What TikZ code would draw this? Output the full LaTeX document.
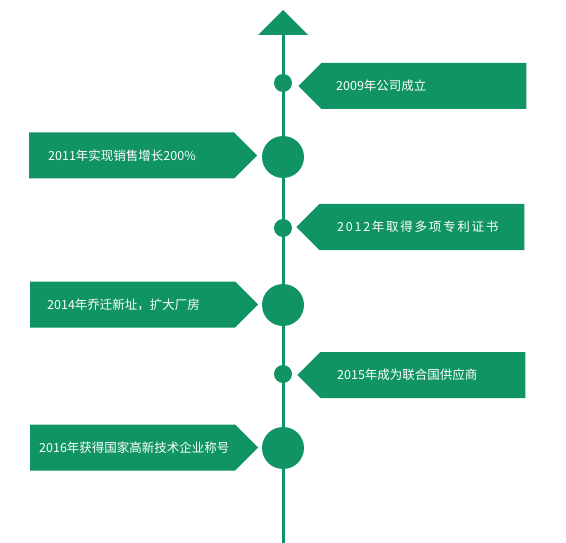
\documentclass[tikz,border=0pt]{standalone}
\usepackage{fontspec}
\setmainfont{Noto Sans CJK SC}
\usepackage{xcolor}
\usetikzlibrary{shapes.symbols,positioning}
\definecolor{tlgreen}{RGB}{16,148,100}

\begin{document}
\begin{tikzpicture}[x=1pt,y=-1pt,
      flag/.style={signal, fill=tlgreen, inner sep=0pt,
                   minimum width=228pt, minimum height=46pt,
                   signal pointer angle=90},
      lflag/.style={flag, signal to=east, anchor=west},
      rflag/.style={flag, signal to=west, anchor=west},
      dot/.style={circle, fill=tlgreen, inner sep=0pt, minimum size=18pt},
      bigdot/.style={dot, minimum size=42pt},
      txt/.style={text=white, inner sep=0pt,
                  font=\fontsize{12.5}{14}\selectfont},
      axis/.style={draw=tlgreen, line width=3pt}
  ]
    \useasboundingbox (0,0) rectangle (566,543);
    % timeline with arrow head
    \coordinate (top) at (283,35);
    \coordinate (bottom) at (283,543);
    \draw[axis] (top) -- (bottom);
    \fill[tlgreen] (258,35) -- (283,10) -- (308,35) -- cycle;

    \node[dot] (d1) at (283,83) {};
    \node[bigdot] (d2) at (283,157) {};
    \node[dot] (d3) at (283,228) {};
    \node[bigdot] (d4) at (283,305) {};
    \node[dot] (d5) at (283,374) {};
    \node[bigdot] (d6) at (283,448) {};

    \node[rflag] (e1) at (298,86) {};
    \node[lflag] (e2) at (29,155.5) {};
    \node[rflag] (e3) at (296,227) {};
    \node[lflag] (e4) at (30,304.5) {};
    \node[rflag] (e5) at (297,375) {};
    \node[lflag] (e6) at (30,447.5) {};

    \node[txt, right=38pt of e1.west] (t1) {2009年公司成立};
    \node[txt, right=19pt of e2.west] (t2) {2011年实现销售增长200\%};
    \node[txt, right=41pt of e3.west] (t3) {\addfontfeature{LetterSpace=14}2012年取得多项专利证书};
    \node[txt, right=17pt of e4.west] (t4) {2014年乔迁新址，扩大厂房};
    \node[txt, right=40pt of e5.west] (t5) {2015年成为联合国供应商};
    \node[txt, right=9pt of e6.west] (t6) {2016年获得国家高新技术企业称号};
  \end{tikzpicture}
\end{document}
